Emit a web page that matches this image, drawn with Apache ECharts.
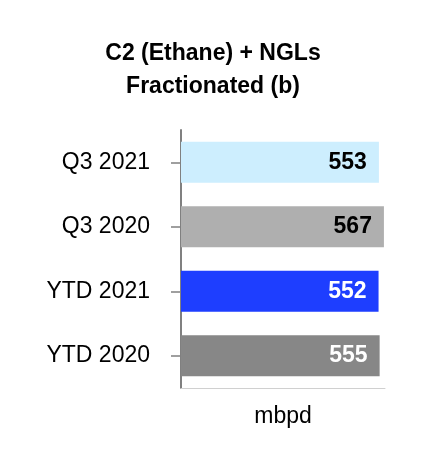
<!DOCTYPE html>
<html><head><meta charset="utf-8">
<script src="https://cdn.jsdelivr.net/npm/echarts@6/dist/echarts.min.js"></script>
<style>html,body{margin:0;padding:0;background:#fff;}#c{width:426px;height:468px;}</style>
</head><body><div id="c"></div>
<script>
const categories = ['Q3 2021', 'Q3 2020', 'YTD 2021', 'YTD 2020'];
const values = [553, 567, 552, 555];
const barColors = ['#cdeefe', '#afafaf', '#1e3eff', '#878787'];
const labelColors = ['#000000', '#000000', '#ffffff', '#ffffff'];

const chart = echarts.init(document.getElementById('c'));
chart.setOption({
  animation: false,
  title: {
    text: 'C2 (Ethane) + NGLs\nFractionated (b)',
    left: 'center', top: 32,
    textStyle: { fontFamily: 'Liberation Sans', fontSize: 23, fontWeight: 'bold', color: '#000', lineHeight: 33 }
  },
  grid: { left: 181, right: 41, top: 130, bottom: 80 },
  xAxis: {
    type: 'value', min: 0, max: 570,
    axisLine: { show: true, lineStyle: { color: '#d0d0d0', width: 1 } },
    axisTick: { show: false }, axisLabel: { show: false }, splitLine: { show: false },
    name: 'mbpd', nameLocation: 'middle', nameGap: 17,
    nameTextStyle: { fontFamily: 'Liberation Sans', fontSize: 23, color: '#000', verticalAlign: 'top' }
  },
  yAxis: {
    type: 'category', data: categories, inverse: true,
    axisLine: { show: true, lineStyle: { color: '#808080', width: 2 } },
    axisTick: { show: true, alignWithLabel: true, length: 10, lineStyle: { color: '#808080', width: 1.5 } },
    axisLabel: { fontFamily: 'Liberation Sans', fontSize: 23, color: '#000', margin: 31 }
  },
  series: [{
    type: 'bar', barWidth: 41,
    data: values.map((v, i) => ({
      value: v,
      itemStyle: { color: barColors[i] },
      label: { color: labelColors[i] }
    })),
    label: {
      show: true, position: 'insideRight', distance: 12,
      fontFamily: 'Liberation Sans', fontSize: 23, fontWeight: 'bold'
    }
  }]
});
</script></body></html>
